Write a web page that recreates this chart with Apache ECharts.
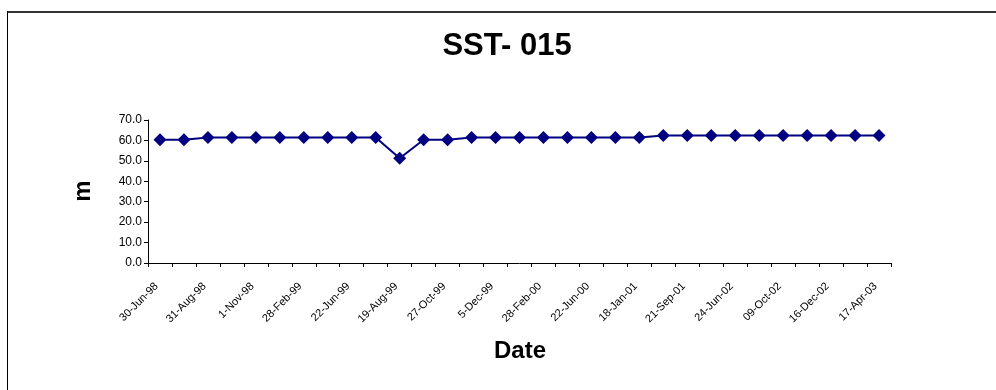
<!DOCTYPE html>
<html>
<head>
<meta charset="utf-8">
<script src="https://cdn.jsdelivr.net/npm/echarts@6/dist/echarts.min.js"></script>
<style>
html,body{margin:0;padding:0;background:#fff;}
#chart{width:996px;height:390px;}
</style>
</head>
<body>
<div id="chart"></div>
<script>
const titleText = 'SST- 015';
const yAxisName = 'm';
const xAxisName = 'Date';
const categories = [
  '30-Jun-98','','31-Aug-98','','1-Nov-98','','28-Feb-99','','22-Jun-99','',
  '19-Aug-99','','27-Oct-99','','5-Dec-99','','28-Feb-00','','22-Jun-00','',
  '18-Jan-01','','21-Sep-01','','24-Jun-02','','09-Oct-02','','16-Dec-02','',
  '17-Apr-03'
];
const values = [
  60.3, 60.3, 61.4, 61.4, 61.4, 61.4, 61.4, 61.4, 61.4, 61.4,
  51.3, 60.3, 60.3, 61.4, 61.4, 61.4, 61.4, 61.4, 61.4, 61.4,
  61.4, 62.4, 62.4, 62.4, 62.4, 62.4, 62.4, 62.4, 62.4, 62.4,
  62.4
];

const FONT = 'Liberation Sans, Arial, sans-serif';
const chart = echarts.init(document.getElementById('chart'), null, {renderer: 'canvas'});
chart.setOption({
  animation: false,
  backgroundColor: '#fff',
  graphic: [
    {type: 'line', shape: {x1: 7, y1: 12, x2: 996, y2: 12}, style: {stroke: '#333', lineWidth: 2}},
    {type: 'line', shape: {x1: 7.5, y1: 11, x2: 7.5, y2: 390}, style: {stroke: '#000', lineWidth: 1}},
    {type: 'text', x: 507, y: 46,
     style: {text: titleText, font: 'bold 31px ' + FONT, fill: '#000', textAlign: 'center', textVerticalAlign: 'middle'}},
    {type: 'text', x: 83, y: 191, rotation: Math.PI/2,
     style: {text: yAxisName, font: 'bold 24px ' + FONT, fill: '#000', textAlign: 'center', textVerticalAlign: 'middle'}},
    {type: 'text', x: 520, y: 351,
     style: {text: xAxisName, font: 'bold 24px ' + FONT, fill: '#000', textAlign: 'center', textVerticalAlign: 'middle'}}
  ],
  grid: {left: 148, right: 105, top: 120, bottom: 127, containLabel: false},
  xAxis: {
    type: 'category',
    data: categories,
    boundaryGap: true,
    axisLine: {lineStyle: {color: '#000', width: 1}},
    axisTick: {show: true, interval: 0, length: 4, lineStyle: {color: '#000'}},
    axisLabel: {
      interval: 0, rotate: 45, margin: 18, padding: [0, 5, 0, 0],
      fontFamily: FONT, fontSize: 11, color: '#000'
    },
    splitLine: {show: false}
  },
  yAxis: {
    type: 'value',
    min: 0, max: 70, interval: 10,
    axisLine: {show: true, lineStyle: {color: '#000', width: 1}},
    axisTick: {show: true, length: 4, lineStyle: {color: '#000'}},
    axisLabel: {
      formatter: v => v.toFixed(1), margin: 6,
      fontFamily: FONT, fontSize: 12, color: '#000'
    },
    splitLine: {show: false}
  },
  series: [{
    type: 'line',
    data: values,
    symbol: 'diamond',
    symbolSize: 13,
    lineStyle: {color: '#000080', width: 2},
    itemStyle: {color: '#000080'}
  }]
});
</script>
</body>
</html>
